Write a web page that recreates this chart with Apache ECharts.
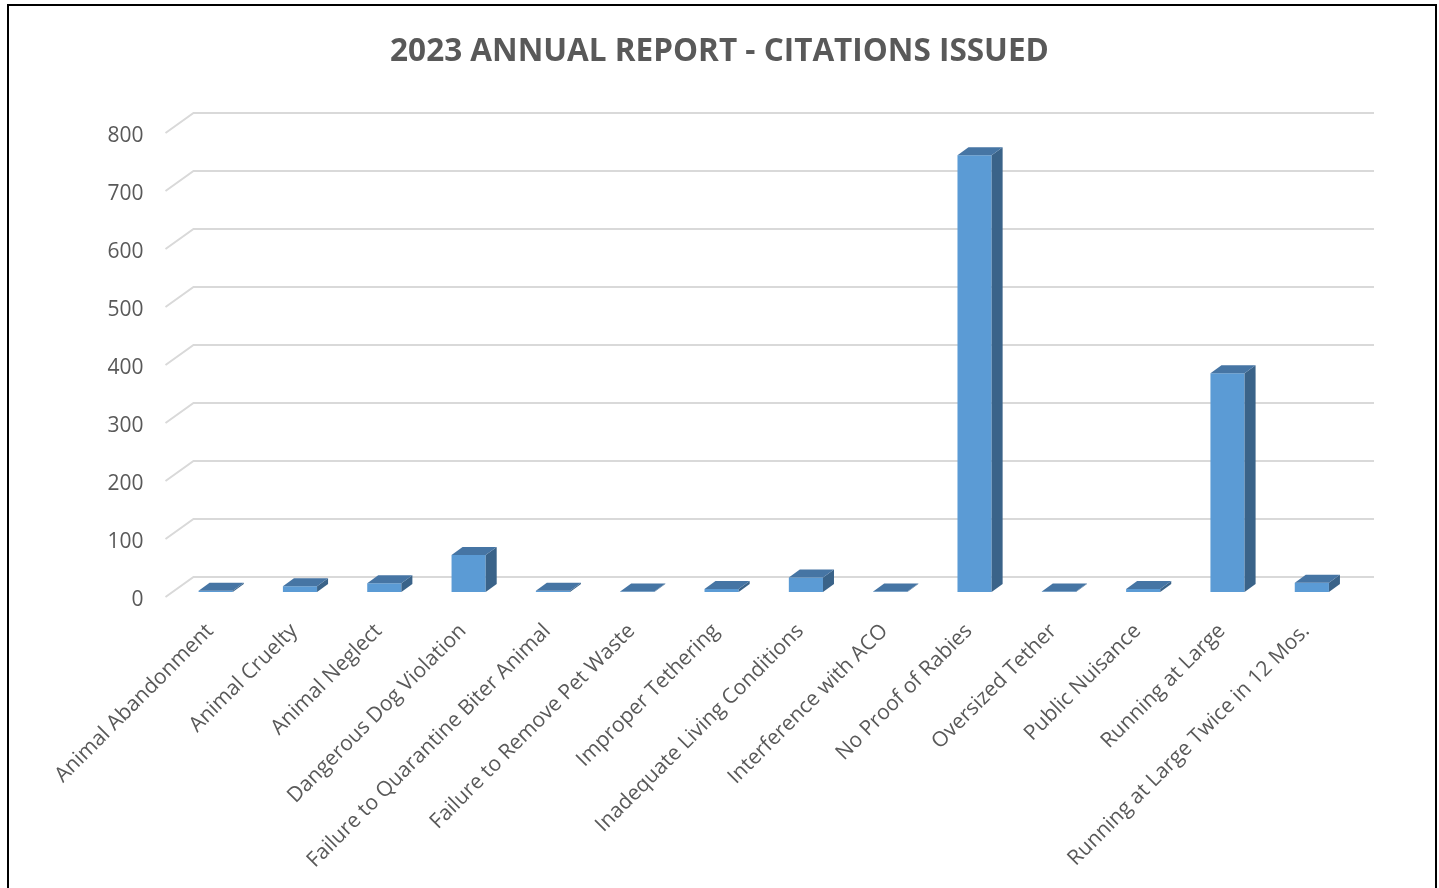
<!DOCTYPE html>
<html>
<head>
<meta charset="utf-8">
<script src="https://cdn.jsdelivr.net/npm/echarts@6/dist/echarts.min.js"></script>
<style>
html,body{margin:0;padding:0;background:#fff;overflow:hidden;}
#chart{width:1439px;height:888px;}
#frame{position:absolute;left:7px;top:4px;width:1426px;height:900px;border:2px solid #000;pointer-events:none;}
</style>
</head>
<body>
<div id="chart"></div>
<div id="frame"></div>
<script>
const categories = [
  'Animal Abandonment','Animal Cruelty','Animal Neglect','Dangerous Dog Violation',
  'Failure to Quarantine Biter Animal','Failure to Remove Pet Waste','Improper Tethering',
  'Inadequate Living Conditions','Interference with ACO','No Proof of Rabies',
  'Oversized Tether','Public Nuisance','Running at Large','Running at Large Twice in 12 Mos.'
];
const citations = [2, 10, 15, 64, 2, 1, 5, 25, 1, 753, 1, 5, 377, 16];
const yTicks = [0, 100, 200, 300, 400, 500, 600, 700, 800];
const titleText = '2023 ANNUAL REPORT - CITATIONS ISSUED';

const chart = echarts.init(document.getElementById('chart'));
const FONT = "'Open Sans', 'Liberation Sans', sans-serif";
const GRAY = '#595959';
const DX = 11, DY = 8;          // bar depth offset
const GF = [-8, 5], GB = [20, -15]; // gridline front / back offsets

chart.setOption({
  animation: false,
  title: {
    text: titleText, left: 'center', top: 36, padding: 0,
    textStyle: {fontFamily: FONT, fontSize: 31.5, fontWeight: 'bold', color: GRAY}
  },
  grid: {left: 173.5, top: 128, width: 1180.5, height: 464, containLabel: false},
  xAxis: {
    type: 'category', data: categories,
    axisLine: {show: false}, axisTick: {show: false},
    axisLabel: {
      interval: 0, rotate: 45, margin: 30, color: GRAY,
      formatter: '{a|{value}}',
      rich: {a: {fontFamily: FONT, fontSize: 21, color: GRAY, padding: [0, 8, 0, 0]}}
    }
  },
  yAxis: {
    type: 'value', min: 0, max: 800, interval: 100,
    splitLine: {show: false}, axisLine: {show: false}, axisTick: {show: false},
    axisLabel: {margin: 30, verticalAlign: 'top', lineHeight: 16, fontFamily: FONT, fontSize: 21, color: GRAY}
  },
  series: [
    {
      type: 'custom', z: 1, silent: true,
      data: yTicks.map(t => [0, t]),
      renderItem: function (params, api) {
        const cs = params.coordSys;
        const y = api.coord([0, api.value(1)])[1];
        const x0 = cs.x, x1 = cs.x + cs.width;
        return {
          type: 'polyline',
          shape: {points: [[x0 + GF[0], y + GF[1]], [x0 + GB[0], y + GB[1]], [x1 + GB[0], y + GB[1]]]},
          style: {stroke: '#d9d9d9', lineWidth: 2, fill: null}
        };
      }
    },
    {
      type: 'custom', z: 5,
      data: citations.map((v, i) => [i, v]),
      renderItem: function (params, api) {
        const i = api.value(0), v = api.value(1);
        const base = api.coord([i, 0]);
        const top = api.coord([i, v]);
        const w = api.size([1, 0])[0] * 0.405;
        const l = base[0] - w / 2, r = base[0] + w / 2;
        const t = top[1], b = base[1];
        return {
          type: 'group',
          children: [
            {type: 'rect', shape: {x: l, y: t, width: w, height: b - t}, style: {fill: '#5b9bd5'}},
            {type: 'polygon', shape: {points: [[r, t], [r + DX, t - DY], [r + DX, b - DY], [r, b]]}, style: {fill: '#3a6389'}},
            {type: 'polygon', shape: {points: [[l, t], [l + DX, t - DY], [r + DX, t - DY], [r, t]]}, style: {fill: '#4675a4'}}
          ]
        };
      }
    }
  ]
});
</script>
</body>
</html>
